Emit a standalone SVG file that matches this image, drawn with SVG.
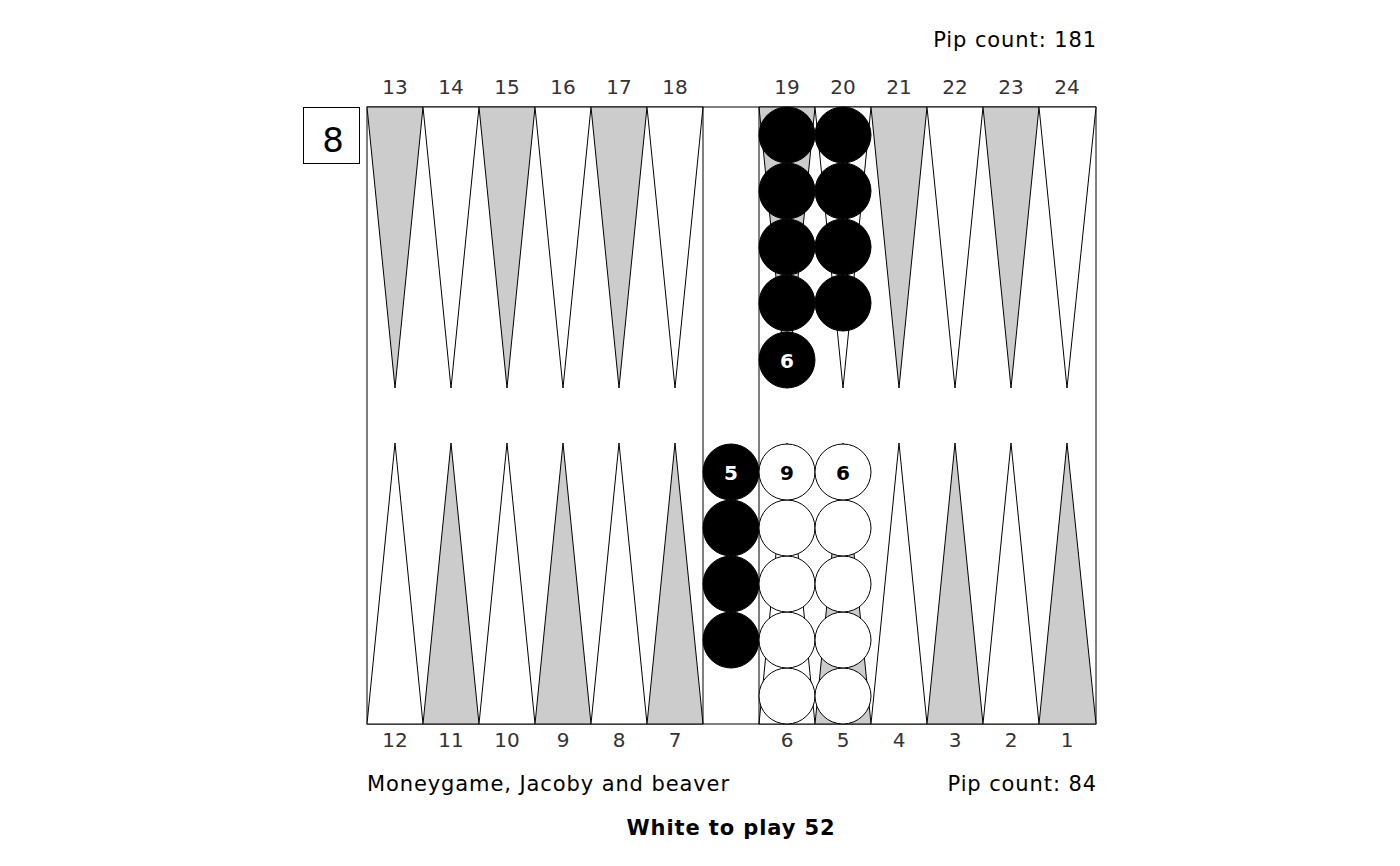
<svg xmlns="http://www.w3.org/2000/svg" width="1400" height="866" viewBox="0 0 1400 866">
<style>
text{font-family:"DejaVu Sans",sans-serif}
.num{font-size:20px;fill:#333;text-anchor:middle}
.g{fill:#ccc;stroke:#000;stroke-width:1}
.w{fill:#fff;stroke:#000;stroke-width:1}
.bk{fill:#000;stroke:#000;stroke-width:1}
.wc{fill:#fff;stroke:#000;stroke-width:1}
.lb{font-size:20px;font-weight:bold;text-anchor:middle}
.info{font-size:21px;fill:#000;letter-spacing:0.9px}
</style>
<rect width="1400" height="866" fill="#fff"/>
<g id="board">
<rect x="367" y="107" width="729" height="617" fill="#fff" stroke="#000" stroke-width="1"/>
<polygon class="g" points="367,107 423,107 395,388"/>
<polygon class="w" points="423,107 479,107 451,388"/>
<polygon class="g" points="479,107 535,107 507,388"/>
<polygon class="w" points="535,107 591,107 563,388"/>
<polygon class="g" points="591,107 647,107 619,388"/>
<polygon class="w" points="647,107 703,107 675,388"/>
<polygon class="g" points="759,107 815,107 787,388"/>
<polygon class="w" points="815,107 871,107 843,388"/>
<polygon class="g" points="871,107 927,107 899,388"/>
<polygon class="w" points="927,107 983,107 955,388"/>
<polygon class="g" points="983,107 1039,107 1011,388"/>
<polygon class="w" points="1039,107 1096,107 1067,388"/>
<polygon class="w" points="367,724 423,724 395,443"/>
<polygon class="g" points="423,724 479,724 451,443"/>
<polygon class="w" points="479,724 535,724 507,443"/>
<polygon class="g" points="535,724 591,724 563,443"/>
<polygon class="w" points="591,724 647,724 619,443"/>
<polygon class="g" points="647,724 703,724 675,443"/>
<polygon class="w" points="759,724 815,724 787,443"/>
<polygon class="g" points="815,724 871,724 843,443"/>
<polygon class="w" points="871,724 927,724 899,443"/>
<polygon class="g" points="927,724 983,724 955,443"/>
<polygon class="w" points="983,724 1039,724 1011,443"/>
<polygon class="g" points="1039,724 1096,724 1067,443"/>
<line x1="703" y1="107" x2="703" y2="724" stroke="#000" stroke-width="1"/>
<line x1="759" y1="107" x2="759" y2="724" stroke="#000" stroke-width="1"/>
</g>
<g id="cube">
<rect x="303.5" y="107.5" width="56" height="56" fill="#fff" stroke="#000" stroke-width="1"/>
<text x="333" y="152" font-size="34" text-anchor="middle">8</text>
</g>
<g id="point-numbers">
<text class="num" x="395" y="94">13</text>
<text class="num" x="451" y="94">14</text>
<text class="num" x="507" y="94">15</text>
<text class="num" x="563" y="94">16</text>
<text class="num" x="619" y="94">17</text>
<text class="num" x="675" y="94">18</text>
<text class="num" x="787" y="94">19</text>
<text class="num" x="843" y="94">20</text>
<text class="num" x="899" y="94">21</text>
<text class="num" x="955" y="94">22</text>
<text class="num" x="1011" y="94">23</text>
<text class="num" x="1067" y="94">24</text>
<text class="num" x="395" y="747">12</text>
<text class="num" x="451" y="747">11</text>
<text class="num" x="507" y="747">10</text>
<text class="num" x="563" y="747">9</text>
<text class="num" x="619" y="747">8</text>
<text class="num" x="675" y="747">7</text>
<text class="num" x="787" y="747">6</text>
<text class="num" x="843" y="747">5</text>
<text class="num" x="899" y="747">4</text>
<text class="num" x="955" y="747">3</text>
<text class="num" x="1011" y="747">2</text>
<text class="num" x="1067" y="747">1</text>
</g>
<g id="point19">
<circle class="bk" cx="787" cy="135" r="28"/>
<circle class="bk" cx="787" cy="191" r="28"/>
<circle class="bk" cx="787" cy="247" r="28"/>
<circle class="bk" cx="787" cy="303" r="28"/>
<circle class="bk" cx="787" cy="360" r="28"/>
<text class="lb" x="787" y="368" fill="#fff">6</text>
</g>
<g id="point20">
<circle class="bk" cx="843" cy="135" r="28"/>
<circle class="bk" cx="843" cy="191" r="28"/>
<circle class="bk" cx="843" cy="247" r="28"/>
<circle class="bk" cx="843" cy="303" r="28"/>
</g>
<g id="bar">
<circle class="bk" cx="731" cy="640" r="28"/>
<circle class="bk" cx="731" cy="584" r="28"/>
<circle class="bk" cx="731" cy="528" r="28"/>
<circle class="bk" cx="731" cy="472" r="28"/>
<text class="lb" x="731" y="480" fill="#fff">5</text>
</g>
<g id="point6">
<circle class="wc" cx="787" cy="696" r="28"/>
<circle class="wc" cx="787" cy="640" r="28"/>
<circle class="wc" cx="787" cy="584" r="28"/>
<circle class="wc" cx="787" cy="528" r="28"/>
<circle class="wc" cx="787" cy="472" r="28"/>
<text class="lb" x="787" y="480" fill="#000">9</text>
</g>
<g id="point5">
<circle class="wc" cx="843" cy="696" r="28"/>
<circle class="wc" cx="843" cy="640" r="28"/>
<circle class="wc" cx="843" cy="584" r="28"/>
<circle class="wc" cx="843" cy="528" r="28"/>
<circle class="wc" cx="843" cy="472" r="28"/>
<text class="lb" x="843" y="480" fill="#000">6</text>
</g>
<g id="info">
<text class="info" x="1097" y="47" text-anchor="end">Pip count: 181</text>
<text class="info" x="367" y="791">Moneygame, Jacoby and beaver</text>
<text class="info" x="1097" y="791" text-anchor="end">Pip count: 84</text>
<text class="info" x="731" y="835" text-anchor="middle" font-weight="bold">White to play 52</text>
</g>
</svg>
